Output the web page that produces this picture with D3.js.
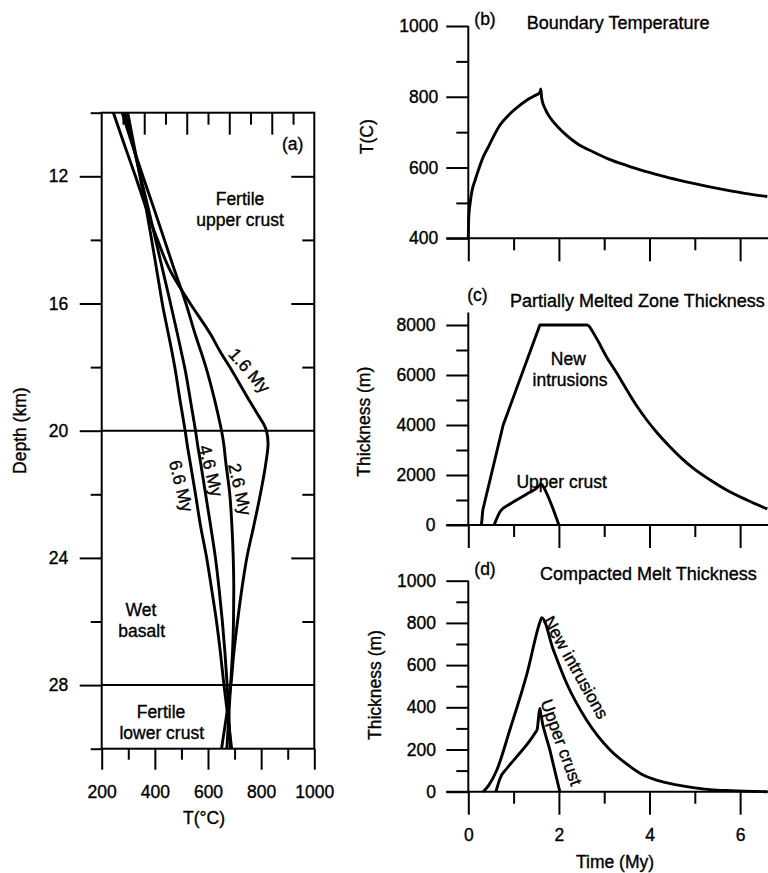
<!DOCTYPE html>
<html>
<head>
<meta charset="utf-8">
<script src="https://cdn.jsdelivr.net/npm/d3@7"></script>
<style>
body{margin:0;background:#fff;}
svg text{stroke:#000;stroke-width:0.35px;}
</style>
</head>
<body>
<div id="chart"></div>
<script>
////////////////////////////////////////
// data
////////////////////////////////////////

// (a) temperature profiles, T (C) at each depth (km)
var depths = [10,11,12,13,14,15,15.5,16,17,17.5,18,19,19.5,19.8,20,20.4,21,22,23,24,25,26,27,28,29,30];
var prof16 = [244,285,327,367,410,460,495,533,612,645,682,752,788,810,820,826,818,797,772,746,727,711,697,686,669,651];
var prof26 = [277,315,355,396,436,476,497,517,553,573,592,624,638,646,651,659,667,682,690,695,697,696,692,685,678,671];
var prof46 = [287,317,346,375,403,431,445,459,486,499,512,533,543,549,553,560,572,591,610,628,642,654,664,672,679,684];
var prof66 = [298,321,344,367,388,408,418,428,452,464,475,494,504,510,514,521,533,553,572,595,614,632,647,660,675,689];
var profNames = ['1.6 My','2.6 My','4.6 My','6.6 My'];

var tempMajor = [200,400,600,800,1000];
var tempMinor = [300,500,700,900];
var depthMajor = [12,16,20,24,28];
var depthMinor = [10,14,18,22,26,30];
var boundaries = [20,28];

// (b) boundary temperature
var bTime = [0,0.01,0.04,0.08,0.15,0.25,0.33,0.45,0.55,0.7,0.92,1.1,1.29,1.45,1.58,1.6,1.62,1.7,1.8,2.0,2.17,2.4,2.76,3.1,3.49,3.85,4.23,4.6,4.97,5.3,5.7,6.1,6.6];
var bTemp = [400,460,499,533,564,603,630,660,686,720,752,772,790,802,812,822,796,765,742,712,691,668,644,624,606,591,578,566,555,546,536,527,518];

// (c) partially melted zone thickness (m)
var cNewTime = [0.29,0.32,0.77,1.58,2.65,2.68,2.83,3.05,3.28,3.5,3.72,3.94,4.19,4.45,4.71,4.97,5.34,5.7,6.15,6.6];
var cNew = [0,600,4000,8000,8000,7920,7467,6733,6067,5400,4760,4200,3640,3133,2667,2267,1800,1400,1000,640];
var cUpTime = [0.57,0.63,0.70,0.92,1.3,1.58,1.6,1.73,1.88,2.0];
var cUp = [0,267,533,840,1250,1600,1650,1267,600,0];

// (d) compacted melt thickness (m)
var dNewTime = [0.33,0.45,0.63,0.92,1.29,1.6,1.62,1.88,2.17,2.61,3.13,3.5,3.86,4.2,4.6,5.0,5.34,5.8,6.6];
var dNew = [0,30,103,295,555,815,825,671,514,340,198,131,79,52,32,18,10,5,0];
var dUpTime = [0.61,0.70,0.85,1.07,1.3,1.47,1.52,1.56,1.58,1.59,1.8,2.02];
var dUp = [0,63,110,166,225,277,295,370,395,380,198,0];

var timeMajor = [0,2,4,6];
var timeMinor = [1,3,5];
var bMajor = [400,600,800,1000], bMinor = [500,700,900];
var cMajor = [0,2000,4000,6000,8000], cMinor = [1000,3000,5000,7000];
var dMajor = [0,200,400,600,800,1000], dMinor = [100,300,500,700,900];

////////////////////////////////////////
// setup
////////////////////////////////////////

var W = 768, H = 873;
var font = '"Liberation Sans", Arial, Helvetica, sans-serif';
var fs = 17.5;
var plain = function(d){ return String(d); };

var svg = d3.select('#chart').append('svg')
	.attr('width',W)
	.attr('height',H)
	.attr('font-family',font)
	.attr('font-size',fs);

var xA = d3.scaleLinear().domain([200,1000]).range([101.7,314.3]);
var yA = d3.scaleLinear().domain([10,30]).range([112.7,748.7]);
var topA = d3.scaleLinear().domain([0,10]).range([101.7,314.3]);

var xT = d3.scaleLinear().domain([0,6.6]).range([468.3,767.3]);
var yB = d3.scaleLinear().domain([400,1000]).range([238.3,26]);
var yC = d3.scaleLinear().domain([0,8500]).range([525,312.5]);
var yD = d3.scaleLinear().domain([0,1000]).range([791.7,580.7]);

function drawAxis(axis,tx,ty){
	var g = svg.append('g')
		.attr('transform','translate('+tx+','+ty+')')
		.call(axis);
	g.select('.domain').remove();
	g.attr('font-size',fs).attr('font-family',font);
	g.selectAll('line').attr('stroke','#000').attr('stroke-width',2);
	g.selectAll('text').attr('fill','#000');
	return g;
}

function label(txt,x,y,anchor,rot,size){
	var t = svg.append('text')
		.attr('transform','translate('+x+','+y+')'+(rot ? ' rotate('+rot+')' : ''))
		.attr('text-anchor',anchor || 'middle')
		.attr('fill','#000')
		.text(txt);
	if(size) t.attr('font-size',size);
	return t;
}

function curvePath(xs,ys,xScale,yScale,curve){
	var pts = xs.map(function(v,i){ return [v,ys[i]]; });
	svg.append('path')
		.datum(pts)
		.attr('fill','none')
		.attr('stroke','#000')
		.attr('stroke-width',2.9)
		.attr('stroke-linejoin','round')
		.attr('d',d3.line()
			.x(function(d){ return xScale(d[0]); })
			.y(function(d){ return yScale(d[1]); })
			.curve(curve));
}

////////////////////////////////////////
// (a) temperature profiles
////////////////////////////////////////

svg.append('rect')
	.attr('x',xA(200))
	.attr('y',yA(10))
	.attr('width',xA(1000)-xA(200))
	.attr('height',yA(30)-yA(10))
	.attr('fill','none')
	.attr('stroke','#000')
	.attr('stroke-width',2);

boundaries.forEach(function(d){
	svg.append('line')
		.attr('x1',xA(200)).attr('x2',xA(1000))
		.attr('y1',yA(d)).attr('y2',yA(d))
		.attr('stroke','#000').attr('stroke-width',2);
});

drawAxis(d3.axisLeft(yA).tickValues(depthMajor).tickSize(22).tickPadding(11.4).tickFormat(plain),xA(200),0);
drawAxis(d3.axisLeft(yA).tickValues(depthMinor).tickSize(11).tickFormat(''),xA(200),0);
drawAxis(d3.axisRight(yA).tickValues([12,16,24]).tickSize(-23).tickFormat(''),xA(1000),0);
drawAxis(d3.axisRight(yA).tickValues([14,18,22,26]).tickSize(-12).tickFormat(''),xA(1000),0);
drawAxis(d3.axisBottom(xA).tickValues(tempMajor).tickSize(21).tickPadding(15.8).tickFormat(plain),0,yA(30));
drawAxis(d3.axisBottom(xA).tickValues(tempMinor).tickSize(11).tickFormat(''),0,yA(30));
drawAxis(d3.axisTop(topA).tickValues([2,4,6,8]).tickSize(-22).tickFormat(''),0,yA(10));
drawAxis(d3.axisTop(topA).tickValues([1,3,5,7,9]).tickSize(-12).tickFormat(''),0,yA(10));

[prof16,prof26,prof46,prof66].forEach(function(p){
	curvePath(p,depths,xA,yA,d3.curveMonotoneY);
});

label('(a)',303.3,150,'end');
label('Fertile',240,204.5);
label('upper crust',240,225.5);
label('Wet',141,615.5);
label('basalt',141.7,637);
label('Fertile',161,717.5);
label('lower crust',161.7,739);
label('T(°C)',204,824);
label('Depth (km)',26,430.7,'middle',-90);

label(profNames[0],249.5,370.5,'middle',48.7).attr('dy','0.35em');
label(profNames[1],240,489.3,'middle',77).attr('dy','0.35em');
label(profNames[2],211,470.7,'middle',75.5).attr('dy','0.35em');
label(profNames[3],181.2,486,'middle',75.5).attr('dy','0.35em');

////////////////////////////////////////
// (b) (c) (d) time series
////////////////////////////////////////

function timePanel(yScale,major,minor,pad,showTime){
	var y0 = yScale.range()[0], y1 = yScale.range()[1];
	var x0 = xT(0);
	svg.append('line')
		.attr('x1',x0).attr('x2',x0)
		.attr('y1',y0).attr('y2',y1)
		.attr('stroke','#000').attr('stroke-width',2);
	svg.append('line')
		.attr('x1',x0-22).attr('x2',W)
		.attr('y1',y0).attr('y2',y0)
		.attr('stroke','#000').attr('stroke-width',2);
	drawAxis(d3.axisLeft(yScale).tickValues(major).tickSize(22).tickPadding(pad).tickFormat(plain),x0,0);
	drawAxis(d3.axisLeft(yScale).tickValues(minor).tickSize(12).tickFormat(''),x0,0);
	var ax = d3.axisBottom(xT).tickValues(timeMajor).tickSize(23).tickPadding(14.2)
		.tickFormat(showTime ? plain : '');
	drawAxis(ax,0,y0);
	drawAxis(d3.axisBottom(xT).tickValues(timeMinor).tickSize(12).tickFormat(''),0,y0);
}

// (b)
timePanel(yB,bMajor,bMinor,8,false);
curvePath(bTime,bTemp,xT,yB,d3.curveMonotoneX);
label('(b)',485,24.5);
label('Boundary Temperature',526.7,28.5,'start',0,18);
label('T(C)',373,136.7,'middle',-90);

// (c) rise is straight segments, fall is smooth
timePanel(yC,cMajor,cMinor,10.8,false);
curvePath(cNewTime.slice(0,5),cNew.slice(0,5),xT,yC,d3.curveLinear);
curvePath(cNewTime.slice(4),cNew.slice(4),xT,yC,d3.curveMonotoneX);
curvePath(cUpTime,cUp,xT,yC,d3.curveMonotoneX);
label('(c)',477.5,301);
label('Partially Melted Zone Thickness',510,307,'start',0,18);
label('New',568.3,365);
label('intrusions',570,386);
label('Upper crust',561.7,488);
label('Thickness (m)',369.5,421.7,'middle',-90);

// (d)
timePanel(yD,dMajor,dMinor,10.3,true);
curvePath(dNewTime,dNew,xT,yD,d3.curveMonotoneX);
curvePath(dUpTime,dUp,xT,yD,d3.curveMonotoneX);
label('(d)',485,574.5);
label('Compacted Melt Thickness',540,579.5,'start',0,18);
label('New intrusions',576,667.5,'middle',60.6).attr('dy','0.35em');
label('Upper crust',561.5,742.3,'middle',70).attr('dy','0.35em');
label('Thickness (m)',380.6,685,'middle',-90);
label('Time (My)',615,868);
</script>
</body>
</html>
